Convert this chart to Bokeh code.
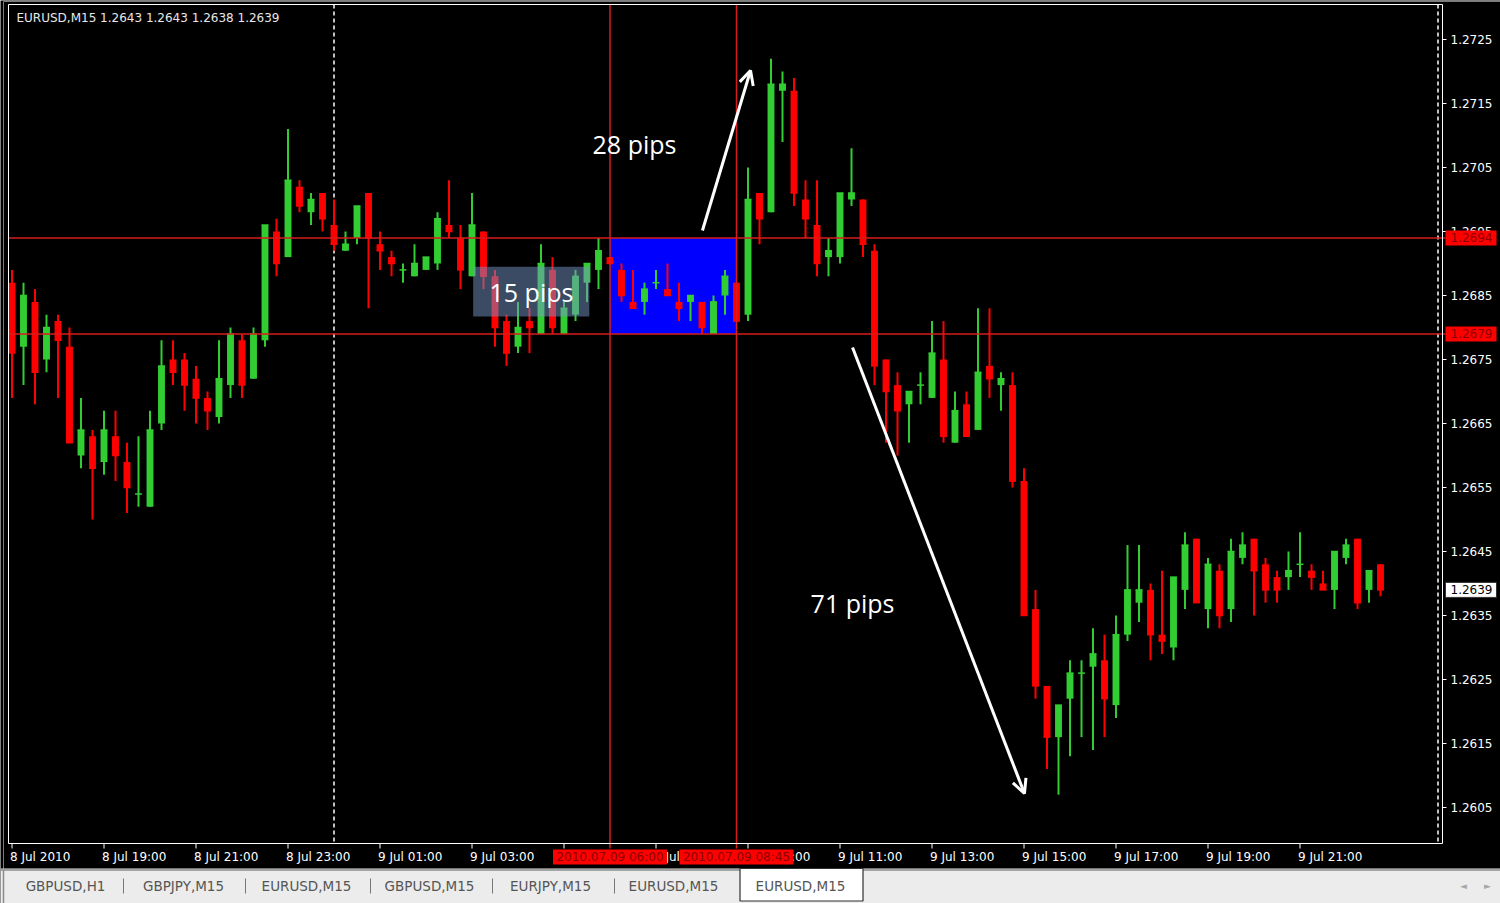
from bokeh.plotting import figure
from bokeh.models import Range1d, BoxAnnotation, Label, Arrow, OpenHead, ColumnDataSource
from bokeh.embed import file_html
from bokeh.resources import INLINE
from bokeh.core.properties import value

# ---------------- data (EURUSD M15, 8 Jul 2010 17:00 -> 9 Jul 2010 22:45) ----------------
bar_index = list(range(120))
opens = [1.2687, 1.2677, 1.2684, 1.2675, 1.2681, 1.2677, 1.2660, 1.2663, 1.2659, 1.2663,
         1.2659, 1.2654, 1.2652, 1.2665, 1.2675, 1.2675, 1.2672, 1.2669, 1.2666, 1.2671,
         1.2678, 1.2672, 1.2678, 1.2695, 1.2691, 1.2702, 1.2698, 1.2701, 1.2696, 1.2692,
         1.2694, 1.2701, 1.2693, 1.2691, 1.2689, 1.2688, 1.2689, 1.2690, 1.2696, 1.2694,
         1.2688, 1.2695, 1.2688, 1.2681, 1.2677, 1.2681, 1.2679, 1.2689, 1.2679, 1.2682,
         1.2687, 1.2689, 1.2691, 1.2689, 1.2684, 1.2684, 1.2687, 1.2686, 1.2684, 1.2684,
         1.2684, 1.2679, 1.2685, 1.2687, 1.2682, 1.2701, 1.2698, 1.2717, 1.2717, 1.2700,
         1.2696, 1.2691, 1.2691, 1.2700, 1.2700, 1.2692, 1.2675, 1.2671, 1.2668, 1.2671,
         1.2669, 1.2675, 1.2662, 1.2668, 1.2664, 1.2674, 1.2671, 1.2671, 1.2656, 1.2636,
         1.2624, 1.2616, 1.2622, 1.2626, 1.2627, 1.2628, 1.2621, 1.2632, 1.2637, 1.2639,
         1.2632, 1.2630, 1.2639, 1.2647, 1.2636, 1.2642, 1.2636, 1.2644, 1.2647, 1.2643,
         1.2641, 1.2641, 1.2643, 1.2642, 1.2640, 1.2639, 1.2644, 1.2647, 1.2639, 1.2643]
highs = [1.2689, 1.2687, 1.2686, 1.2682, 1.2682, 1.2680, 1.2669, 1.2664, 1.2667, 1.2667,
         1.2662, 1.2663, 1.2667, 1.2678, 1.2678, 1.2676, 1.2674, 1.2670, 1.2678, 1.2680,
         1.2679, 1.2680, 1.2696, 1.2697, 1.2711, 1.2703, 1.2701, 1.2701, 1.2700, 1.2695,
         1.2699, 1.2701, 1.2695, 1.2692, 1.2690, 1.2693, 1.2691, 1.2698, 1.2703, 1.2696,
         1.2701, 1.2695, 1.2689, 1.2682, 1.2684, 1.2683, 1.2693, 1.2691, 1.2684, 1.2689,
         1.2690, 1.2694, 1.2691, 1.2690, 1.2689, 1.2687, 1.2689, 1.2690, 1.2687, 1.2685,
         1.2684, 1.2685, 1.2689, 1.2687, 1.2705, 1.2701, 1.2722, 1.2720, 1.2719, 1.2703,
         1.2703, 1.2694, 1.2701, 1.2708, 1.2700, 1.2693, 1.2675, 1.2673, 1.2670, 1.2673,
         1.2681, 1.2681, 1.2670, 1.2670, 1.2683, 1.2683, 1.2673, 1.2673, 1.2658, 1.2639,
         1.2624, 1.2621, 1.2628, 1.2628, 1.2633, 1.2632, 1.2635, 1.2646, 1.2646, 1.2640,
         1.2642, 1.2641, 1.2648, 1.2647, 1.2644, 1.2643, 1.2647, 1.2648, 1.2647, 1.2644,
         1.2642, 1.2645, 1.2648, 1.2643, 1.2642, 1.2645, 1.2647, 1.2647, 1.2642, 1.2643]
lows = [1.2669, 1.2671, 1.2668, 1.2673, 1.2669, 1.2662, 1.2658, 1.2650, 1.2657, 1.2656,
        1.2651, 1.2652, 1.2652, 1.2664, 1.2671, 1.2667, 1.2665, 1.2664, 1.2665, 1.2669,
        1.2669, 1.2672, 1.2677, 1.2688, 1.2691, 1.2698, 1.2696, 1.2695, 1.2692, 1.2692,
        1.2693, 1.2683, 1.2689, 1.2688, 1.2687, 1.2688, 1.2689, 1.2689, 1.2694, 1.2686,
        1.2688, 1.2686, 1.2677, 1.2674, 1.2676, 1.2676, 1.2679, 1.2679, 1.2679, 1.2681,
        1.2684, 1.2686, 1.2690, 1.2684, 1.2683, 1.2682, 1.2686, 1.2685, 1.2681, 1.2681,
        1.2679, 1.2679, 1.2682, 1.2681, 1.2681, 1.2693, 1.2698, 1.2709, 1.2699, 1.2694,
        1.2688, 1.2688, 1.2690, 1.2699, 1.2691, 1.2671, 1.2662, 1.2660, 1.2662, 1.2668,
        1.2669, 1.2662, 1.2662, 1.2663, 1.2664, 1.2669, 1.2667, 1.2655, 1.2635, 1.2622,
        1.2611, 1.2607, 1.2613, 1.2616, 1.2614, 1.2616, 1.2619, 1.2631, 1.2634, 1.2628,
        1.2629, 1.2628, 1.2636, 1.2637, 1.2633, 1.2633, 1.2634, 1.2643, 1.2635, 1.2637,
        1.2637, 1.2639, 1.2641, 1.2639, 1.2639, 1.2636, 1.2643, 1.2636, 1.2637, 1.2638]
closes = [1.2676, 1.2685, 1.2673, 1.2680, 1.2678, 1.2662, 1.2664, 1.2658, 1.2664, 1.2660,
          1.2655, 1.2654, 1.2664, 1.2674, 1.2673, 1.2671, 1.2669, 1.2667, 1.2672, 1.2679,
          1.2671, 1.2679, 1.2696, 1.2690, 1.2703, 1.2699, 1.2700, 1.2697, 1.2693, 1.2693,
          1.2699, 1.2694, 1.2692, 1.2690, 1.2689, 1.2690, 1.2691, 1.2697, 1.2695, 1.2689,
          1.2696, 1.2688, 1.2680, 1.2676, 1.2680, 1.2680, 1.2690, 1.2680, 1.2683, 1.2688,
          1.2690, 1.2692, 1.2690, 1.2685, 1.2683, 1.2686, 1.2687, 1.2685, 1.2683, 1.2685,
          1.2680, 1.2684, 1.2688, 1.2681, 1.2700, 1.2697, 1.2718, 1.2718, 1.2701, 1.2697,
          1.2690, 1.2692, 1.2701, 1.2701, 1.2693, 1.2674, 1.2670, 1.2667, 1.2670, 1.2671,
          1.2676, 1.2663, 1.2667, 1.2663, 1.2673, 1.2672, 1.2672, 1.2656, 1.2635, 1.2624,
          1.2616, 1.2621, 1.2626, 1.2626, 1.2629, 1.2622, 1.2632, 1.2639, 1.2639, 1.2632,
          1.2631, 1.2641, 1.2646, 1.2637, 1.2643, 1.2635, 1.2645, 1.2646, 1.2642, 1.2639,
          1.2639, 1.2642, 1.2643, 1.2641, 1.2639, 1.2645, 1.2646, 1.2637, 1.2642, 1.2639]

price_ticks = [1.2605, 1.2615, 1.2625, 1.2635, 1.2645, 1.2655, 1.2665,
               1.2675, 1.2685, 1.2695, 1.2705, 1.2715, 1.2725]
time_tick_idx = [0, 8, 16, 24, 32, 40, 48, 56, 64, 72, 80, 88, 96, 104, 112]
time_tick_labels = ["8 Jul 2010", "8 Jul 19:00", "8 Jul 21:00", "8 Jul 23:00", "9 Jul 01:00",
                    "9 Jul 03:00", "9 Jul 05:00", "9 Jul 07:00", "9 Jul 09:00", "9 Jul 11:00",
                    "9 Jul 13:00", "9 Jul 15:00", "9 Jul 17:00", "9 Jul 19:00", "9 Jul 21:00"]
levels = [1.2694, 1.2679]
level_tags = ["1.2694", "1.2679"]
vline_idx = [52, 63]
vline_tags = ["2010.07.09 06:00", "2010.07.09 08:45"]
day_sep_idx = [28, 124]
last_price = [1.2639]
last_tag = ["1.2639"]
title_text = "EURUSD,M15  1.2643 1.2643 1.2638 1.2639"
pip_labels = ["28 pips", "15 pips", "71 pips"]
tab_names = ["GBPUSD,H1", "GBPJPY,M15", "EURUSD,M15", "GBPUSD,M15", "EURJPY,M15",
             "EURUSD,M15", "EURUSD,M15"]

# ---------------- styles ----------------
UP = "#32cd32"
DOWN = "#ff0000"
LINE_RED = "#d81c1c"
FONT = value("DejaVu Sans")
FS = value("12px")
W, H = 1500, 903
# chart frame (screen pixels)
FL, FR, FT, FB = 8, 1442, 4, 843

tops = [max(o, c) for o, c in zip(opens, closes)]
bottoms = [min(o, c) for o, c in zip(opens, closes)]
colors = [UP if c >= o else DOWN for o, c in zip(opens, closes)]
src = ColumnDataSource(dict(x=bar_index, o=opens, h=highs, l=lows, c=closes,
                            top=tops, bottom=bottoms, color=colors,
                            xl=[i - 0.3 for i in bar_index], xr=[i + 0.3 for i in bar_index]))

# bar i is centred at 11.5 + 11.5*i px; 1 pip = 6.4 px, 1.2725 at y = 39 px
p = figure(width=W, height=H,
           x_range=Range1d(-1.0, -1.0 + W / 11.5),
           y_range=Range1d(1.2725 - (H - 39) / 64000, 1.2725 + 39 / 64000),
           output_backend="svg", toolbar_location=None, title=None,
           x_axis_location=None, y_axis_location=None,
           background_fill_color="black", border_fill_color="black",
           min_border=0, outline_line_color=None)
p.xgrid.grid_line_color = None
p.ygrid.grid_line_color = None
p.extra_x_ranges = {"px": Range1d(0, W)}
p.extra_y_ranges = {"py": Range1d(H, 0)}

# window chrome
p.segment(x0=[3, 3], y0=[1, 1], x1=[3, W], y1=[H, 1], line_color="#7a7a7a", line_width=1,
          x_range_name="px", y_range_name="py")
# blue range box (background object)
p.add_layout(BoxAnnotation(left=vline_idx[0], right=vline_idx[1], top=levels[0], bottom=levels[1],
                           fill_color="#0000ff", fill_alpha=1.0, line_color=None, level="underlay"))
# day separators
p.segment(x0=day_sep_idx, y0=[FT] * 2, x1=day_sep_idx, y1=[FB] * 2, line_color="white",
          line_dash="4 3", line_width=1.5, y_range_name="py")

# candles
p.segment(x0="x", y0="h", x1="x", y1="l", line_color="color", line_width=2, source=src)
p.segment(x0="xl", y0="c", x1="xr", y1="c", line_color="color", line_width=1.5, source=src)
p.vbar(x="x", width=0.6, top="top", bottom="bottom", fill_color="color",
       line_color=None, source=src)

# horizontal / vertical level lines
p.segment(x0=[FL] * 2, y0=levels, x1=[FR + 3] * 2, y1=levels, line_color=LINE_RED,
          line_width=1.5, x_range_name="px")
p.segment(x0=vline_idx, y0=[FT] * 2, x1=vline_idx, y1=[FB + 5] * 2, line_color=LINE_RED,
          line_width=1.5, y_range_name="py")

# chart frame
p.quad(left=[FL], right=[FR], top=[FT], bottom=[FB], fill_color=None, line_color="white",
       line_width=1, x_range_name="px", y_range_name="py")

# translucent box behind "15 pips"
p.add_layout(BoxAnnotation(left=40.1, right=50.2, top=1.26895, bottom=1.26817,
                           fill_color="#7896c8", fill_alpha=0.5, line_color=None))

# pip annotations
pip_pos = [(54.13, 1.270875), (45.17, 1.268547), (73.09, 1.263688)]
for txt, (px, py) in zip(pip_labels, pip_pos):
    p.add_layout(Label(x=px, y=py, text=txt, text_align="center", text_baseline="middle",
                       text_color="white", text_font="Open Sans", text_font_size="25px"))
head = dict(size=14, line_color="white", line_width=3)
p.add_layout(Arrow(x_start=60.04, y_start=1.269516, x_end=64.22, y_end=1.272016,
                   line_color="white", line_width=3, end=OpenHead(**head)))
p.add_layout(Arrow(x_start=73.09, y_start=1.267688, x_end=88.04, y_end=1.260719,
                   line_color="white", line_width=3, end=OpenHead(**head)))

# chart title
p.text(x=[16], y=[17], text=[title_text], text_font=FONT, text_font_size=FS,
       text_align="left", text_baseline="middle", text_color="#e8e8e8",
       x_range_name="px", y_range_name="py")

# ---- right price scale ----
n = len(price_ticks)
p.segment(x0=[FR] * n, y0=price_ticks, x1=[FR + 4] * n, y1=price_ticks, line_color="white",
          line_width=1, x_range_name="px")
p.text(x=[FR + 8] * n, y=price_ticks, text=[f"{t:.4f}" for t in price_ticks], text_font=FONT,
       text_font_size=FS, text_align="left", text_baseline="middle", text_color="white",
       x_range_name="px")
p.rect(x=[1470.5] * 2, y=levels, width=51, height=15, height_units="screen",
       fill_color="#ff0000", line_color=None, x_range_name="px")
p.text(x=[FR + 8] * 2, y=levels, text=level_tags, text_font=FONT, text_font_size=FS,
       text_align="left", text_baseline="middle", text_color="#8b0000", x_range_name="px")
p.rect(x=[1470.5], y=last_price, width=51, height=15, height_units="screen",
       fill_color="white", line_color="#303030", line_width=1, x_range_name="px")
p.text(x=[FR + 8], y=last_price, text=last_tag, text_font=FONT, text_font_size=FS,
       text_align="left", text_baseline="middle", text_color="black", x_range_name="px")

# ---- time scale ----
m = len(time_tick_idx)
p.segment(x0=time_tick_idx, y0=[FB] * m, x1=time_tick_idx, y1=[FB + 5] * m, line_color="white",
          line_width=1, y_range_name="py")
p.text(x=time_tick_idx, y=[856] * m, text=time_tick_labels, text_font=FONT, text_font_size=FS,
       text_align="left", text_baseline="middle", text_color="white", x_offset=-2,
       y_range_name="py")
p.rect(x=vline_idx, y=[856.5] * 2, width=114, height=15, width_units="screen",
       fill_color="#ff0000", line_color=None, y_range_name="py")
p.text(x=vline_idx, y=[856.5] * 2, text=vline_tags, text_font=FONT, text_font_size=FS,
       text_align="center", text_baseline="middle", text_color="#8b0000", y_range_name="py")

# ---- tab bar ----
p.quad(left=[0], right=[W], top=[868], bottom=[H], fill_color="#ececec", line_color=None,
       x_range_name="px", y_range_name="py")
p.segment(x0=[0, 3], y0=[869.5, 869], x1=[W, 3], y1=[869.5, H], line_color="#8c8c8c",
          line_width=1.5, x_range_name="px", y_range_name="py")
p.quad(left=[739.5], right=[862.5], top=[868], bottom=[900.5], fill_color="white",
       line_color="#303030", line_width=1.2, x_range_name="px", y_range_name="py")
tab_x = [65, 183, 306, 429, 550, 673, 800]
p.text(x=tab_x, y=[885] * len(tab_x), text=tab_names, text_font=FONT,
       text_font_size=value("13.5px"), text_align="center", text_baseline="middle",
       text_color="#555555", x_range_name="px", y_range_name="py")
sep_x = [123, 245, 370, 492, 614]
p.segment(x0=sep_x, y0=[878] * 5, x1=sep_x, y1=[893] * 5, line_color="#777777", line_width=1,
          x_range_name="px", y_range_name="py")
p.text(x=[1463, 1487], y=[885, 885], text=["\u25c4", "\u25ba"], text_font=FONT,
       text_font_size=value("9px"), text_align="center", text_baseline="middle",
       text_color="#a8a8a8", x_range_name="px", y_range_name="py")

open("out.html", "w").write(file_html(p, INLINE))
